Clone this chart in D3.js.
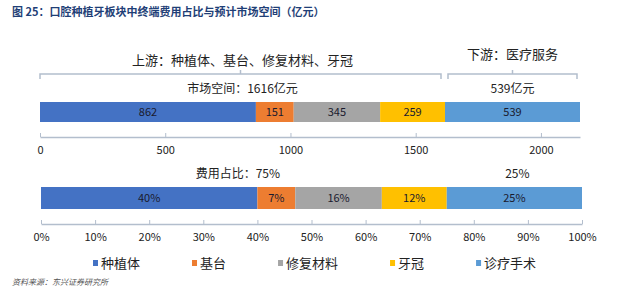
<!DOCTYPE html>
<html>
<head>
<meta charset="utf-8">
<script src="https://cdn.jsdelivr.net/npm/d3@7"></script>
<style>
  body { margin: 0; background: #fff; }
  text { font-family: "Noto Sans CJK SC", "Liberation Sans", sans-serif; fill: #222; }
</style>
</head>
<body>
<div id="chart"></div>
<script>
// Chart data
const segments = ["种植体", "基台", "修复材料", "牙冠", "诊疗手术"];
const marketValues = [862, 151, 345, 259, 539];   // 亿元
const sharePct = [40, 7, 16, 12, 25];             // %
const segmentColors = ["#4472C4", "#ED7D31", "#A5A5A5", "#FFC000", "#5B9BD5"];
const upstreamCount = 4;
// group totals as printed in the source (upstream, downstream)
const groupTotals = [1616, 539];
const groupShares = [75, 25];
const marketTicks = [0, 500, 1000, 1500, 2000];
const shareTicks = [0, 10, 20, 30, 40, 50, 60, 70, 80, 90, 100];

const width = 640, height = 293;

const svg = d3.select("#chart")
  .append("svg")
  .attr("width", width)
  .attr("height", height);

// Title
svg.append("text")
  .attr("x", 12)
  .attr("y", 16)
  .style("font-size", "11px")
  .style("font-weight", "bold")
  .style("fill", "#1F3F77")
  .text("图 25：口腔种植牙板块中终端费用占比与预计市场空间（亿元）");

// Stack helper
function stackOf(values) {
  let acc = 0;
  return values.map((v, i) => {
    const d = { name: segments[i], value: v, x0: acc, x1: acc + v, color: segmentColors[i] };
    acc += v;
    return d;
  });
}

const marketStack = stackOf(marketValues);
const shareStack = stackOf(sharePct);
const marketTotal = d3.sum(marketValues);
const upEnd = marketStack[upstreamCount - 1].x1;
const upShareEnd = shareStack[upstreamCount - 1].x1;

const xMarket = d3.scaleLinear().domain([0, marketTotal]).range([40, 580]);
const xShare = d3.scaleLinear().domain([0, 100]).range([41, 582]);

// Brackets
const bracketY = 74;
const bracketColor = "#B3BECD";
function bracket(x0, x1) {
  svg.append("path")
    .attr("d", `M${x0},${bracketY + 5}V${bracketY}H${x1}V${bracketY + 5}M${(x0 + x1) / 2},${bracketY}V${bracketY - 4}`)
    .attr("fill", "none")
    .attr("stroke", bracketColor)
    .attr("stroke-width", 1.5);
}
bracket(xMarket(0), xMarket(upEnd) - 4);
bracket(xMarket(upEnd) + 3, xMarket(marketTotal) - 3);

svg.append("text")
  .attr("x", (xMarket(0) + xMarket(upEnd)) / 2)
  .attr("y", 65)
  .attr("text-anchor", "middle")
  .style("font-size", "13px")
  .text("上游：" + segments.slice(0, upstreamCount).join("、"));

svg.append("text")
  .attr("x", (xMarket(upEnd) + xMarket(marketTotal)) / 2)
  .attr("y", 59)
  .attr("text-anchor", "middle")
  .style("font-size", "13px")
  .text("下游：医疗服务");

// Draw one stacked bar with axis
function drawBar(stack, x, barY, barH, axisY, ticks, fmt, labelFmt) {
  svg.selectAll(null)
    .data(stack)
    .join("rect")
    .attr("x", d => x(d.x0))
    .attr("y", barY)
    .attr("width", d => x(d.x1) - x(d.x0))
    .attr("height", barH)
    .attr("fill", d => d.color);

  svg.selectAll(null)
    .data(stack)
    .join("text")
    .attr("x", d => (x(d.x0) + x(d.x1)) / 2)
    .attr("y", barY + barH / 2)
    .attr("dy", "0.35em")
    .attr("text-anchor", "middle")
    .style("font-size", "11px")
    .style("fill", "#1a1a2e")
    .text(labelFmt);

  const axis = svg.append("g")
    .attr("transform", `translate(0,${axisY})`)
    .call(d3.axisBottom(x)
      .tickValues(ticks)
      .tickFormat(fmt)
      .tickSizeInner(-4)
      .tickSizeOuter(0)
      .tickPadding(9));

  axis.select(".domain").attr("stroke", bracketColor).attr("stroke-width", 1.5);
  axis.selectAll(".tick line").attr("stroke", bracketColor);
  axis.selectAll(".tick text")
    .style("font-size", "11px")
    .style("font-family", "\"Noto Sans CJK SC\", sans-serif")
    .style("fill", "#222");
}

// Market size bar
svg.append("text")
  .attr("x", (xMarket(0) + xMarket(upEnd)) / 2)
  .attr("y", 93)
  .attr("text-anchor", "middle")
  .style("font-size", "12px")
  .text(`市场空间：${groupTotals[0]}亿元`);

svg.append("text")
  .attr("x", (xMarket(upEnd) + xMarket(marketTotal)) / 2)
  .attr("y", 93)
  .attr("text-anchor", "middle")
  .style("font-size", "12px")
  .text(`${groupTotals[1]}亿元`);

drawBar(marketStack, xMarket, 102, 20, 137, marketTicks, d => d, d => d.value);

// Share bar
svg.append("text")
  .attr("x", (xShare(0) + xShare(upShareEnd)) / 2 - 6)
  .attr("y", 178)
  .attr("text-anchor", "middle")
  .style("font-size", "12px")
  .text(`费用占比：${groupShares[0]}%`);

svg.append("text")
  .attr("x", (xShare(upShareEnd) + xShare(100)) / 2 + 3)
  .attr("y", 178)
  .attr("text-anchor", "middle")
  .style("font-size", "12px")
  .text(`${groupShares[1]}%`);

drawBar(shareStack, xShare, 187, 22, 224, shareTicks, d => d + "%", d => d.value + "%");

// Legend
const legend = svg.append("g").attr("transform", "translate(93,263)");
let lx = 0;
segments.forEach((name, i) => {
  const g = legend.append("g").attr("transform", `translate(${lx},0)`);
  g.append("rect")
    .attr("x", 0)
    .attr("y", -3)
    .attr("width", 5)
    .attr("height", 6)
    .attr("fill", segmentColors[i]);
  const t = g.append("text")
    .attr("x", 8)
    .attr("dy", "0.35em")
    .style("font-size", "13px")
    .text(name);
  lx += 8 + t.node().getComputedTextLength() + 52;
});

// Source
svg.append("text")
  .attr("x", 12)
  .attr("y", 285)
  .style("font-size", "8px")
  .style("font-style", "italic")
  .style("fill", "#555")
  .text("资料来源：东兴证券研究所");
</script>
</body>
</html>
